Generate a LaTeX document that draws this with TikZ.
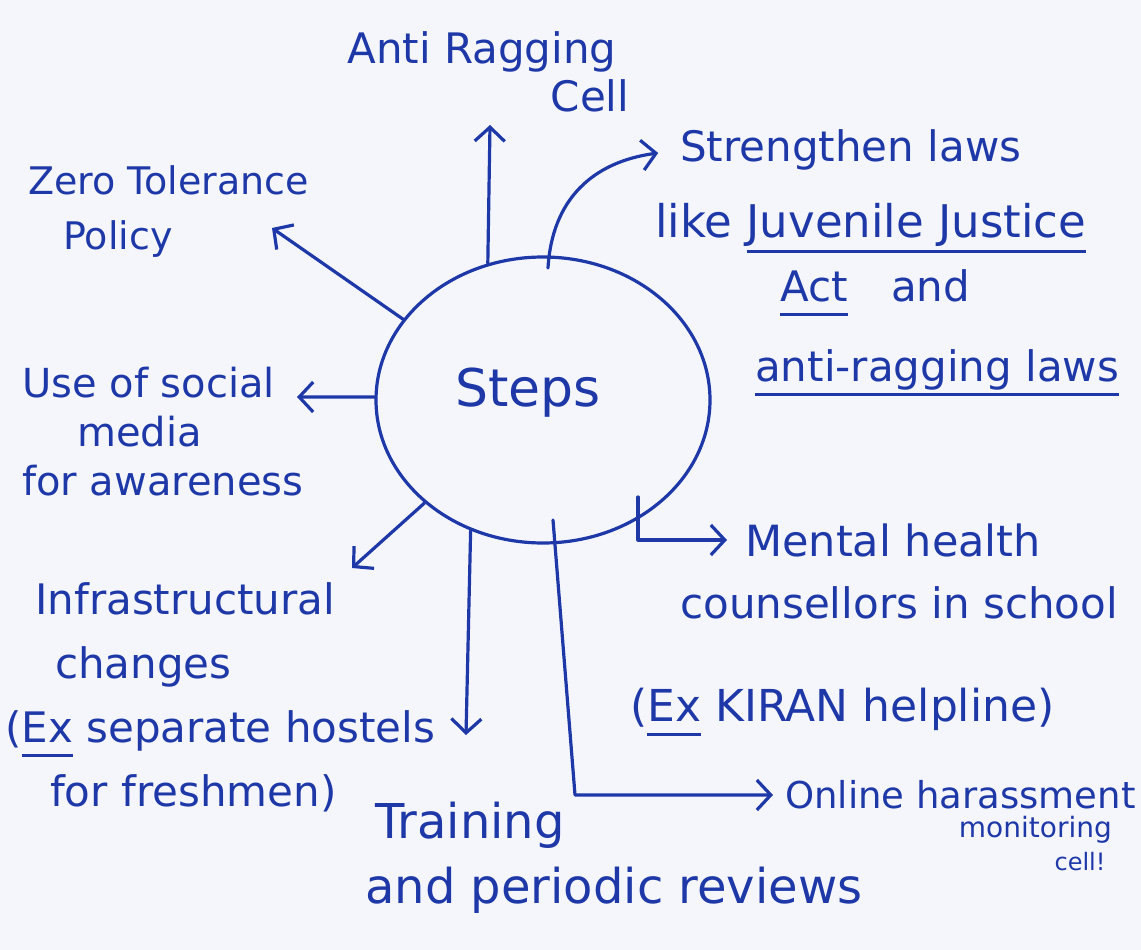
\documentclass[tikz,border=0pt]{standalone}
\usepackage{fontspec}
\setmainfont{DejaVu Sans}
\usetikzlibrary{arrows.meta,shapes.geometric}
\definecolor{ink}{RGB}{30,56,168}
\definecolor{paper}{RGB}{244,246,252}
% pen-style underline: a thick stroke well below the baseline
\newsavebox\penbox
\newcommand\penul[1]{\sbox\penbox{#1}\rlap{\color{ink}\rule[-15pt]{\wd\penbox}{3pt}}\usebox\penbox}
\newcommand\fs[2]{\fontsize{#1}{#2}\selectfont}
\begin{document}
\begin{tikzpicture}[x=1pt,y=-1pt,
  txt/.style={text=ink, inner sep=0pt, font=\fs{42}{48}},
  conn/.style={draw=ink, line width=3.2pt, line cap=round, line join=round,
    -{Straight Barb[length=14pt,width=30pt]}}]
\fill[paper] (0,0) rectangle (1141,950);
\useasboundingbox (0,0) rectangle (1141,950);

% central bubble
\node[draw=ink, line width=3.2pt, ellipse, minimum width=334pt, minimum height=286pt, inner sep=0pt] (steps) at (543,400) {};
\node[txt, font=\fs{52}{56}] (steptext) at (528,393) {Steps};

% branch texts
\node[txt] (anti) at (482,52) {Anti Ragging};
\node[txt] (antic) at (590,96) {Cell};
\node[txt, align=left, anchor=west, font=\fs{38}{55}] (zero) at (28,212) {Zero Tolerance\\\hspace*{35pt}Policy};
\node[txt, align=left, anchor=west, font=\fs{40}{49}] (social) at (22,432) {Use of social\\\hspace*{55pt}media\\for awareness};
\node[txt, align=left, anchor=west, font=\fs{42}{64}] (infra) at (5,697) {\hspace*{30pt}Infrastructural\\\hspace*{50pt}changes\\(\penul{Ex} separate hostels\\\hspace*{45pt}for freshmen)};
\node[txt, align=left, anchor=west, font=\fs{48}{65}] (train) at (365,858) {\hspace*{10pt}Training\\and periodic reviews};

\node[txt, anchor=west] (str1) at (680,150) {Strengthen laws};
\node[txt, anchor=west, font=\fs{45}{48}] (str2) at (655,228) {like \penul{Juvenile Justice}};
\node[txt, anchor=west] (str3) at (780,293) {\penul{Act}\hspace{30pt} and};
\node[txt, anchor=west] (str4) at (755,373) {\penul{anti-ragging laws}};

\node[txt, anchor=west, font=\fs{43}{48}] (mental) at (745,540) {Mental health};
\node[txt, anchor=west] (couns) at (680,603) {counsellors in school};
\node[txt, anchor=west, font=\fs{44}{48}] (kiran) at (630,712) {(\penul{Ex} KIRAN helpline)};

\node[txt, anchor=west, font=\fs{37}{40}] (online) at (785,795) {Online harassment};
\node[txt, anchor=east, font=\fs{28}{30}] (monit) at (1112,830) {monitoring};
\node[txt, font=\fs{24}{30}] (cell) at (1080,862) {cell!};

% arrow end points beside the texts
\coordinate (antiend) at (490,125);
\coordinate (zeroend) at (272,228);
\coordinate (socialend) at (297,397);
\coordinate (infraend) at (352,568);
\coordinate (trainend) at (466,735);
\coordinate (m0) at (638,497);
\coordinate (o0) at (553,520);
\coordinate (s0) at (548,268);

% connectors
\draw[conn] (steps.112) -- (antiend);
\draw[conn, shorten >=22pt] (s0) .. controls (552,200) and (592,162) .. (str1.west);
\draw[conn] (steps.150) -- (zeroend);
\draw[conn] (steps.179) -- (socialend);
\draw[conn] (steps.221) -- (infraend);
\draw[conn] (steps.241) -- (trainend);
\draw[conn, shorten >=18pt] (m0) -- (m0 |- mental.west) -- (mental.west);
\draw[conn, shorten >=12pt] (o0) -- ([xshift=-210pt]online.west) -- (online.west);
\end{tikzpicture}
\end{document}
